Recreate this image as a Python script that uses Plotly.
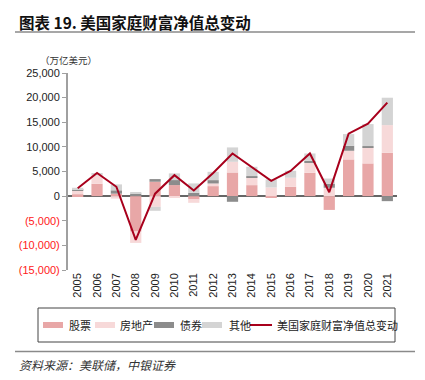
import plotly.graph_objects as go

years = [str(y) for y in range(2005, 2022)]
equity      = [400, 2500, 500, -7200, 2920, 2240, -680, 2030, 4800, 2230, -340, 1900, 4740, -2800, 7450, 6640, 8800]
real_estate = [700, 1700, -500, -2300, -2170, -340, -680, 540, 2170, 1560, 1760, 1830, 2030, 1700, 1760, 3250, 5620]
bonds       = [200, 0, 680, 500, 540, 1020, 680, 680, -1150, 270, 0, 0, 400, 820, 1020, 270, -1020]
other       = [400, 500, 1200, 200, -810, 1360, 1900, 1690, 2920, 1900, 1630, 1420, 1490, 1050, 2370, 4470, 5560]
net_change  = [1600, 4700, 1900, -8900, 500, 4250, 1150, 4700, 8650, 5960, 3100, 5100, 8670, 800, 12700, 14700, 19000]

y_ticks = [-15000, -10000, -5000, 0, 5000, 10000, 15000, 20000, 25000]

names = ["股票", "房地产", "债券", "其他", "美国家庭财富净值总变动"]
colors = ["#E8A7A7", "#F7D9D9", "#8C8C8C", "#D4D4D4", "#A8001C"]

def fmt(v):
    if v < 0:
        return "<span style='color:#FF2020'>(" + format(-v, ",") + ")</span>"
    return format(v, ",")

fig = go.Figure()
for series, nm, c in zip([equity, real_estate, bonds, other], names[:4], colors[:4]):
    fig.add_trace(go.Bar(x=years, y=series, name=nm, marker=dict(color=c, line=dict(width=0)),
                         showlegend=False))
fig.add_trace(go.Scatter(x=years, y=net_change, mode="lines", name=names[4],
                         line=dict(color=colors[4], width=2), showlegend=False))

W, H = 425, 380
L, R, T, B = 68, 28, 73, 110
pw, ph = W - L - R, H - T - B
def px(x): return (x - L) / pw
def py(y): return (H - B - y) / ph

fig.update_layout(
    width=W, height=H,
    margin=dict(l=L, r=R, t=T, b=B),
    barmode="relative", bargap=0.42,
    plot_bgcolor="white", paper_bgcolor="white",
    font=dict(family="Liberation Sans, Arial", size=11, color="#222"),
    xaxis=dict(type="category", range=[-0.5, 16.5], tickangle=-90, showline=False,
               ticks="", tickfont=dict(size=11, color="#222"), showgrid=False, zeroline=False),
    yaxis=dict(range=[-15000, 25000], tickvals=y_ticks, ticktext=[fmt(v) for v in y_ticks],
               showgrid=False, zeroline=True, zerolinecolor="#666", zerolinewidth=1.5,
               showline=True, linecolor="#A0A0A0", linewidth=2, ticks="outside",
               ticklen=4, tickcolor="#A0A0A0", tickfont=dict(size=11, color="#222")),
)

cjk = "Noto Sans CJK SC"
fig.add_annotation(x=px(17), y=py(22), xref="paper", yref="paper", text="<b>图表 19. 美国家庭财富净值总变动</b>",
                   showarrow=False, xanchor="left", yanchor="middle",
                   font=dict(family=cjk, size=15.5, color="#111"))
fig.add_shape(type="line", xref="paper", yref="paper", x0=px(15), x1=px(415), y0=py(32), y1=py(32),
              line=dict(color="#8A8A8A", width=1.5))
fig.add_annotation(x=px(38), y=py(60), xref="paper", yref="paper", text="（万亿美元）", showarrow=False,
                   xanchor="left", yanchor="middle", font=dict(family=cjk, size=9.5, color="#333"))

# legend box
fig.add_shape(type="rect", xref="paper", yref="paper", x0=px(38), x1=px(395), y0=py(308), y1=py(342),
              line=dict(color="#444", width=1), fillcolor="white")
sw = [(43, 63, 67), (95, 115, 118), (154, 174, 178), (202, 222, 227)]
for (a, b, t), nm, c in zip(sw, names[:4], colors[:4]):
    fig.add_shape(type="rect", xref="paper", yref="paper", x0=px(a), x1=px(b), y0=py(328), y1=py(322),
                  line=dict(width=0), fillcolor=c)
    fig.add_annotation(x=px(t), y=py(325), xref="paper", yref="paper", text=nm, showarrow=False,
                       xanchor="left", yanchor="middle", font=dict(family=cjk, size=11, color="#222"))
fig.add_shape(type="line", xref="paper", yref="paper", x0=px(250), x1=px(272), y0=py(325), y1=py(325),
              line=dict(color=colors[4], width=2))
fig.add_annotation(x=px(275), y=py(325), xref="paper", yref="paper", text=names[4], showarrow=False,
                   xanchor="left", yanchor="middle", font=dict(family=cjk, size=11, color="#222"))

# source
fig.add_shape(type="line", xref="paper", yref="paper", x0=px(15), x1=px(415), y0=py(351.5), y1=py(351.5),
              line=dict(color="#8A8A8A", width=1.5))
fig.add_annotation(x=px(17), y=py(364), xref="paper", yref="paper", text="<i>资料来源：美联储，中银证券</i>",
                   showarrow=False, xanchor="left", yanchor="middle", font=dict(family=cjk, size=12, color="#333"))

fig.write_html("out.html", config={"displayModeBar": False},
               post_script="document.body.style.margin='0';document.body.style.overflow='hidden';")
